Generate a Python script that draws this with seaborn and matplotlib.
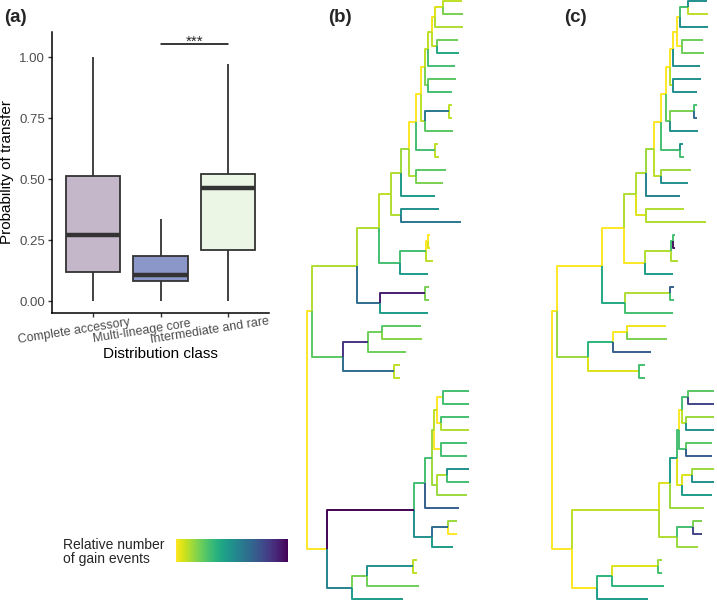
import numpy as np
import pandas as pd
import seaborn as sns
import matplotlib as mpl
import matplotlib.pyplot as plt
from matplotlib.transforms import ScaledTranslation

sns.set_theme(style="white")
plt.rcParams["font.family"] = ["Liberation Sans", "DejaVu Sans"]

# ---- panel (a): five-number summaries ----
dist_classes = ["Complete accessory", "Multi-lineage core", "Intermediate and rare"]
box_complete = [0.0, 0.118, 0.270, 0.514, 1.0]
box_core = [0.0, 0.083, 0.108, 0.186, 0.336]
box_rare = [0.0, 0.209, 0.462, 0.520, 0.970]
box_colors = ["#c4b7ca", "#8b97c9", "#ebf6e5"]

# ---- panels (b) and (c): one tree, two colourings ----
# tips listed top to bottom; depth = distance from root
tip_names = ["t%d" % i for i in range(47)]
tip_parent = ["A", "A", "B", "C", "C", "E", "F", "F", "H", "H", "I", "K", "K",
              "M", "M", "O", "Q", "Q", "T", "T", "U", "S", "X", "X", "W",
              "AC", "AC", "AA", "AB", "AB",
              "KK", "KK", "MM", "MM", "OO", "OO", "QQ", "QQ", "PP", "EE",
              "RR", "RR", "FF", "TT", "TT", "SS", "DD"]
tip_depth = [155, 156, 156, 151, 152, 148, 149, 145, 145, 145, 146, 131, 132,
             139, 136, 128, 132, 154, 123, 123, 126, 121, 122, 122, 121,
             114, 115, 99, 93, 93,
             162, 162, 162, 162, 160, 160, 162, 162, 160, 152,
             150, 150, 146, 110, 110, 112, 96]
tip_gain_b = [0.10, 0.20, 0.12, 0.22, 0.40, 0.30, 0.25, 0.30, 0.10, 0.10, 0.25, 0.10, 0.10,
              0.25, 0.20, 0.45, 0.50, 0.60, 0.00, 0.05, 0.10, 0.45, 0.20, 0.20, 0.45,
              0.25, 0.18, 0.22, 0.10, 0.10,
              0.30, 0.30, 0.30, 0.12, 0.30, 0.30, 0.50, 0.30, 0.15, 0.70,
              0.15, 0.00, 0.45, 0.10, 0.10, 0.22, 0.45]
tip_gain_c = [0.50, 0.10, 0.50, 0.22, 0.22, 0.50, 0.50, 0.50, 0.30, 0.65, 0.50, 0.50, 0.30,
              0.15, 0.50, 0.55, 0.12, 0.12, 0.30, 0.95, 0.12, 0.45, 0.70, 0.30, 0.30,
              0.02, 0.20, 0.70, 0.30, 0.30,
              0.25, 0.80, 0.15, 0.50, 0.25, 0.70, 0.15, 0.50, 0.45, 0.15,
              0.20, 0.80, 0.15, 0.15, 0.30, 0.35, 0.45]

node_names = ["A", "B", "C", "D", "E", "F", "G", "H", "I", "J", "K", "L", "M", "N",
              "O", "P", "Q", "R", "S", "T", "U", "V", "W", "X", "Y", "Z", "AA",
              "AC", "AB", "BB", "CC", "DD", "EE", "FF", "GG", "NN", "LL", "KK",
              "MM", "OO", "PP", "QQ", "RR", "SS", "TT"]
node_parent = ["B", "D", "D", "E", "G", "G", "J", "I", "J", "L", "L", "N", "N", "O",
               "P", "R", "P", "V", "R", "U", "S", "Y", "V", "W", "root", "Y", "Z",
               "AA", "Z", "root", "BB", "BB", "CC", "CC", "EE", "GG", "NN", "LL",
               "LL", "NN", "GG", "PP", "FF", "DD", "SS"]
node_depth = [136, 128, 130, 125, 121, 121, 118, 142, 118, 114, 128, 109, 109, 102,
              94, 84, 94, 72, 93, 121, 119, 50, 73, 118, 5, 36, 61,
              75, 87, 20, 107, 45, 118, 125, 125, 127, 130, 136,
              134, 134, 130, 140, 141, 60, 106]
node_gain_b = [0.05, 0.02, 0.10, 0.10, 0.10, 0.20, 0.00, 0.60, 0.10, 0.00, 0.30, 0.00, 0.12, 0.15,
               0.12, 0.10, 0.12, 0.12, 0.30, 0.00, 0.30, 0.12, 0.65, 0.92, 0.00, 0.25, 0.85,
               0.22, 0.65, 0.00, 1.00, 0.55, 0.30, 0.50, 0.30, 0.15, 0.10, 0.00,
               0.00, 0.00, 0.15, 0.12, 0.65, 0.20, 0.50]
node_gain_c = [0.30, 0.00, 0.00, 0.00, 0.00, 0.10, 0.00, 0.20, 0.25, 0.00, 0.30, 0.00, 0.10, 0.15,
               0.12, 0.12, 0.05, 0.00, 0.00, 0.30, 0.12, 0.00, 0.40, 0.12, 0.00, 0.15, 0.35,
               0.00, 0.05, 0.00, 0.10, 0.00, 0.05, 0.12, 0.45, 0.30, 0.00, 0.30,
               0.10, 0.30, 0.05, 0.05, 0.30, 0.35, 0.05]


def tree_segments(tip_gain, node_gain):
    # elbow path for every edge: parent x at parent y -> parent x at child y -> child x
    parent = dict(zip(tip_names + node_names, tip_parent + node_parent))
    depth = dict(zip(tip_names + node_names, tip_depth + node_depth))
    depth["root"] = 0
    gain = dict(zip(tip_names + node_names, tip_gain + node_gain))
    children = {}
    for c, p in parent.items():
        children.setdefault(p, []).append(c)
    ypos = {t: i for i, t in enumerate(tip_names)}

    def get_y(n):
        if n not in ypos:
            ypos[n] = np.mean([get_y(c) for c in children[n]])
        return ypos[n]

    get_y("root")
    rows = []
    for c, p in parent.items():
        for x, y in [(depth[p], ypos[p]), (depth[p], ypos[c]), (depth[c], ypos[c])]:
            rows.append({"edge": c, "x": x, "y": y, "gain": gain[c]})
    return pd.DataFrame(rows)


W, H = 717, 600
fig = plt.figure(figsize=(W / 100, H / 100), dpi=100)


def px_axes(x0, y0, x1, y1):
    return fig.add_axes([x0 / W, 1 - y1 / H, (x1 - x0) / W, (y1 - y0) / H])


# ---- (a) boxplot ----
ax = px_axes(52, 32, 269, 313)
df_box = pd.DataFrame({
    "Distribution class": np.repeat(dist_classes, 5),
    "Probability of transfer": box_complete + box_core + box_rare,
})
sns.boxplot(data=df_box, x="Distribution class", y="Probability of transfer",
            hue="Distribution class", palette=box_colors, saturation=1, legend=False,
            width=0.8, whis=(0, 100), linecolor="#333333", linewidth=1.3,
            showcaps=False, fliersize=0, medianprops={"linewidth": 3.2}, ax=ax)
ax.set_xlim(-0.6, 2.6)
ax.set_ylim(-0.049, 1.103)
ax.set_yticks([0, 0.25, 0.5, 0.75, 1.0])
ax.set_yticklabels(["0.00", "0.25", "0.50", "0.75", "1.00"])
ax.set_xticks([0, 1, 2])
ax.set_xticklabels([])
ax.tick_params(axis="both", length=3, width=1.0, color="#333333", labelsize=9.5,
               labelcolor="#4d4d4d", pad=2, bottom=True, left=True)
# slanted category labels, placed by hand relative to the ticks
for i, name in enumerate(dist_classes):
    off = ScaledTranslation(-19 / 100, -18 / 100, fig.dpi_scale_trans)
    ax.text(i, 0, name, rotation=9, rotation_mode="anchor", ha="center", va="center",
            fontsize=9, color="#4d4d4d", transform=ax.get_xaxis_transform() + off)
sns.despine(ax=ax)
for side in ["left", "bottom"]:
    ax.spines[side].set_color("black")
    ax.spines[side].set_linewidth(1.1)
ax.set_xlabel("Distribution class", fontsize=11, color="black")
ax.set_ylabel("Probability of transfer", fontsize=11, color="black")
ax.xaxis.set_label_coords(0.5, -0.12)
ax.yaxis.set_label_coords(-0.175, 0.5)

# significance bar between core and rare
ax.plot([1, 2], [1.054, 1.054], color="black", lw=1.1)
ax.text(1.5, 1.045, "***", ha="center", va="baseline", fontsize=11)

# ---- (b) and (c) trees ----
for x0, x1, xmax, tip_gain, node_gain in [(300, 475, 168, tip_gain_b, node_gain_b),
                                         (545, 717, 165, tip_gain_c, node_gain_c)]:
    tax = px_axes(x0, 0, x1, 600)
    seg = tree_segments(tip_gain, node_gain)
    sns.lineplot(data=seg, x="x", y="y", hue="gain", units="edge", estimator=None,
                 sort=False, palette="viridis_r", hue_norm=(0, 1), legend=False,
                 linewidth=1.4, ax=tax)
    for ln in tax.lines:
        ln.set_clip_on(False)
        ln.set_solid_capstyle("butt")
    tax.set_xlim(-7, xmax)
    tax.set_ylim(599 / 13, -1 / 13)
    tax.axis("off")

# colour bar legend
cax = px_axes(176, 539, 288, 562)
cb = fig.colorbar(mpl.cm.ScalarMappable(norm=mpl.colors.Normalize(0, 1), cmap="viridis_r"),
                  cax=cax, orientation="horizontal")
cb.set_ticks([])
cb.outline.set_visible(False)
fig.text(63 / W, 1 - 552 / H, "Relative number\nof gain events", ha="left", va="center",
         fontsize=10, linespacing=1.05)

# panel letters
for x, lab in [(4, "(a)"), (328, "(b)"), (564, "(c)")]:
    fig.text(x / W, 1 - 17 / H, lab, ha="left", va="center", fontsize=13.5, fontweight="bold")

plt.savefig("out.png", dpi=100)
plt.close()
